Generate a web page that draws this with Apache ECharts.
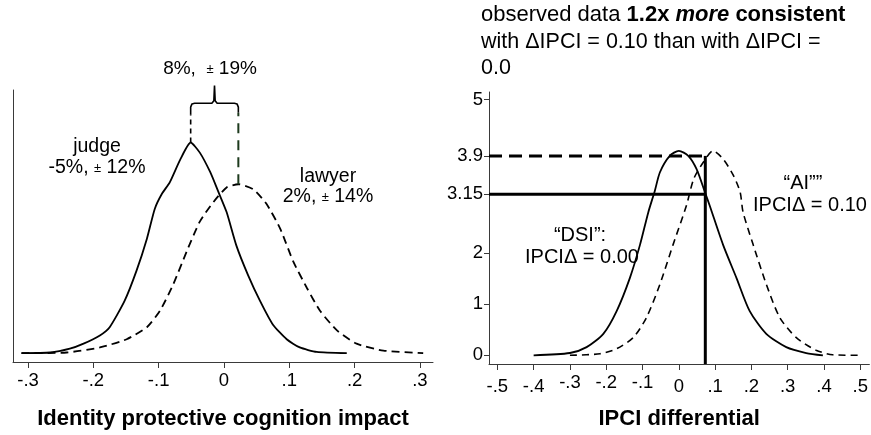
<!DOCTYPE html>
<html><head><meta charset="utf-8">
<script src="https://cdn.jsdelivr.net/npm/echarts@6/dist/echarts.min.js"></script>
<style>html,body{margin:0;padding:0;background:#fff}#c{width:871px;height:435px}</style>
</head><body><div id="c"></div>
<script>
// ---------- data ----------
// Left panel: identity protective cognition impact densities
const judgeX = [-0.31,-0.266,-0.236,-0.215,-0.19,-0.175,-0.152,-0.134,-0.118,-0.106,-0.095,-0.083,-0.067,-0.051,-0.037,-0.021,-0.009,0.004,0.019,0.037,0.055,0.075,0.096,0.116,0.142,0.188];
const judgeY = [0,0.01,0.07,0.15,0.28,0.41,0.83,1.30,1.81,2.28,2.52,2.70,3.06,3.33,3.17,2.86,2.56,2.23,1.70,1.23,0.83,0.45,0.22,0.09,0.02,0];
const lawyerX = [-0.31,-0.241,-0.19,-0.149,-0.118,-0.098,-0.078,-0.057,-0.037,-0.016,0.004,0.022,0.045,0.065,0.086,0.106,0.127,0.147,0.173,0.203,0.244,0.305];
const lawyerY = [0,0.01,0.09,0.22,0.41,0.67,1.08,1.61,2.08,2.39,2.62,2.67,2.59,2.36,1.97,1.45,1.03,0.67,0.36,0.15,0.04,0];
const leftTicks = [-0.3,-0.2,-0.1,0,0.1,0.2,0.3];
const leftTickLabels = ['-.3','-.2','-.1','0','.1','.2','.3'];
const judgeMean = -0.051, lawyerMean = 0.022;
const judgePeak = 3.33, lawyerPeak = 2.67;
const braceTop = 3.95, braceTip = 4.23, judgeStemEnd = 3.77, lawyerStemEnd = 3.80;

// Right panel: IPCI differential densities
const dsiX = [-0.4,-0.3,-0.254,-0.208,-0.171,-0.135,-0.107,-0.084,-0.066,-0.052,-0.025,0,0.026,0.049,0.072,0.085,0.122,0.159,0.195,0.241,0.296,0.351,0.397];
const dsiY = [0,0.045,0.16,0.42,0.87,1.51,2.16,2.80,3.22,3.58,3.90,4.0,3.90,3.64,3.19,2.93,2.16,1.51,0.87,0.42,0.16,0.045,0];
const aiX = [-0.3,-0.217,-0.171,-0.125,-0.089,-0.052,-0.016,0.021,0.041,0.067,0.094,0.122,0.151,0.169,0.177,0.205,0.241,0.278,0.323,0.378,0.424,0.5];
const aiY = [0,0.03,0.13,0.35,0.74,1.39,2.16,2.93,3.45,3.77,4.0,3.84,3.51,3.19,2.80,2.16,1.39,0.74,0.35,0.10,0.01,0];
const rightXTicks = [-0.5,-0.4,-0.3,-0.2,-0.1,0,0.1,0.2,0.3,0.4,0.5];
const rightXTickLabels = ['-.5','-.4','-.3','-.2','-.1','0','.1','.2','.3','.4','.5'];
const rightYTicks = [0,1,2,3.15,3.9,5];
const rightYTickLabels = ['0','1','2','3.15','3.9','5'];
const observedX = 0.073, aiHeight = 3.9, dsiHeight = 3.15;

// ---------- chart ----------
const FONT = '"Liberation Sans", Arial, Helvetica, sans-serif';
const LX = [-0.323, 0.32], LY = [-0.14, 4.16];
const RX = [-0.523, 0.525], RY = [-0.17, 5.15];
const zip = (xs, ys) => xs.map((x, i) => [x, ys[i]]);
const findIdx = (arr, v) => arr.findIndex(a => Math.abs(a - v) < 1e-9);
const AXC = '#3a3a3a';

const line = (data, xi, opts) => Object.assign({
  type: 'line', xAxisIndex: xi, yAxisIndex: xi, data: data, symbol: 'none',
  smooth: false, clip: false, silent: true, animation: false,
  lineStyle: { color: '#000', width: 1.8, type: 'solid' }
}, opts || {});

const chart = echarts.init(document.getElementById('c'), null, { renderer: 'canvas' });
chart.setOption({
  animation: false,
  backgroundColor: '#fff',
  grid: [
    { left: 13, top: 90, width: 420, height: 275 },
    { left: 489, top: 92, width: 381, height: 275 }
  ],
  xAxis: [
    { gridIndex: 0, type: 'value', min: LX[0], max: LX[1],
      axisLine: { show: true, onZero: false, lineStyle: { color: AXC, width: 1 } },
      axisTick: { show: true, customValues: leftTicks, length: 6, lineStyle: { color: AXC } },
      axisLabel: { show: true, customValues: leftTicks, margin: 9, fontFamily: FONT, fontSize: 18.5, color: '#000',
        formatter: v => leftTickLabels[findIdx(leftTicks, v)] },
      splitLine: { show: false },
      name: 'Identity protective cognition impact', nameLocation: 'middle', nameGap: 46,
      nameTextStyle: { fontFamily: FONT, fontSize: 22, fontWeight: 'bold', color: '#000' } },
    { gridIndex: 1, type: 'value', min: RX[0], max: RX[1],
      axisLine: { show: true, onZero: false, lineStyle: { color: AXC, width: 1 } },
      axisTick: { show: true, customValues: rightXTicks, length: 6, lineStyle: { color: AXC } },
      axisLabel: { show: true, customValues: rightXTicks, margin: 9, color: '#000',
        formatter: v => {
          const i = findIdx(rightXTicks, v);
          const raised = v < -0.05 && v > -0.35;
          return (raised ? '{hi|' : '{lo|') + rightXTickLabels[i] + '}';
        },
        rich: {
          hi: { fontFamily: FONT, fontSize: 18.5, color: '#000', padding: [0, 0, 0, 0] },
          lo: { fontFamily: FONT, fontSize: 18.5, color: '#000', padding: [4, 0, 0, 0] }
        } },
      splitLine: { show: false },
      name: 'IPCI differential', nameLocation: 'middle', nameGap: 44,
      nameTextStyle: { fontFamily: FONT, fontSize: 22, fontWeight: 'bold', color: '#000' } }
  ],
  yAxis: [
    { gridIndex: 0, type: 'value', min: LY[0], max: LY[1],
      axisLine: { show: true, onZero: false, lineStyle: { color: AXC, width: 1 } },
      axisTick: { show: false }, axisLabel: { show: false }, splitLine: { show: false } },
    { gridIndex: 1, type: 'value', min: RY[0], max: RY[1],
      axisLine: { show: true, onZero: false, lineStyle: { color: AXC, width: 1 } },
      axisTick: { show: true, customValues: rightYTicks, length: 5, lineStyle: { color: AXC } },
      axisLabel: { show: true, customValues: rightYTicks, margin: 6, fontFamily: FONT, fontSize: 18.5, color: '#000',
        formatter: v => rightYTickLabels[findIdx(rightYTicks, v)] },
      splitLine: { show: false } }
  ],
  series: [
    // left panel
    line(zip(judgeX, judgeY), 0, { smooth: 0.2 }),
    line(zip(lawyerX, lawyerY), 0, { smooth: 0.2, lineStyle: { color: '#000', width: 1.8, type: [8, 5] } }),
    // brace
    line([[judgeMean, judgeStemEnd], [judgeMean, braceTop - 0.06], [judgeMean + 0.002, braceTop - 0.01],
          [judgeMean + 0.006, braceTop], [ (judgeMean + lawyerMean) / 2 - 0.004, braceTop],
          [ (judgeMean + lawyerMean) / 2 - 0.001, braceTop + 0.04], [ (judgeMean + lawyerMean) / 2, braceTip],
          [ (judgeMean + lawyerMean) / 2 + 0.001, braceTop + 0.04], [ (judgeMean + lawyerMean) / 2 + 0.004, braceTop],
          [lawyerMean - 0.006, braceTop], [lawyerMean - 0.002, braceTop - 0.01], [lawyerMean, braceTop - 0.06],
          [lawyerMean, lawyerStemEnd]], 0, { lineStyle: { color: '#000', width: 1.6 } }),
    line([[judgeMean, judgePeak], [judgeMean, judgeStemEnd]], 0, { lineStyle: { color: '#000', width: 1.6, type: [5, 4] } }),
    line([[lawyerMean, lawyerPeak], [lawyerMean, lawyerStemEnd]], 0, { lineStyle: { color: '#1d3a1d', width: 2, type: [10, 7] } }),
    // right panel
    line(zip(dsiX, dsiY), 1, { smooth: 0.25 }),
    line(zip(aiX, aiY), 1, { smooth: 0.25, lineStyle: { color: '#000', width: 1.6, type: [7, 5] } }),
    line([[RX[0], aiHeight], [observedX, aiHeight]], 1, { lineStyle: { color: '#000', width: 3, type: [13, 7] } }),
    line([[RX[0], dsiHeight], [observedX, dsiHeight]], 1, { lineStyle: { color: '#000', width: 3 } }),
    line([[observedX, aiHeight], [observedX, RY[0]]], 1, { lineStyle: { color: '#000', width: 3 } })
  ],
  graphic: [
    // left annotations
    { type: 'text', x: 210, y: 69, style: { text: '{n|8%,  }{s|±}{n| 19%}', align: 'center', verticalAlign: 'middle',
        rich: { n: { fontFamily: FONT, fontSize: 19, fill: '#000' }, s: { fontFamily: FONT, fontSize: 13, fill: '#000' } } } },
    { type: 'text', x: 97, y: 147, style: { text: 'judge', align: 'center', verticalAlign: 'middle', font: '19.5px ' + FONT, fill: '#000' } },
    { type: 'text', x: 97, y: 168, style: { text: '{n|-5%, }{s|±}{n| 12%}', align: 'center', verticalAlign: 'middle',
        rich: { n: { fontFamily: FONT, fontSize: 19.5, fill: '#000' }, s: { fontFamily: FONT, fontSize: 13, fill: '#000' } } } },
    { type: 'text', x: 328, y: 177, style: { text: 'lawyer', align: 'center', verticalAlign: 'middle', font: '19.5px ' + FONT, fill: '#000' } },
    { type: 'text', x: 328, y: 197, style: { text: '{n|2%, }{s|±}{n| 14%}', align: 'center', verticalAlign: 'middle',
        rich: { n: { fontFamily: FONT, fontSize: 19.5, fill: '#000' }, s: { fontFamily: FONT, fontSize: 13, fill: '#000' } } } },
    // right annotations
    { type: 'text', x: 803, y: 183, style: { text: '“AI””', align: 'center', verticalAlign: 'middle', font: '20px ' + FONT, fill: '#000' } },
    { type: 'text', x: 810, y: 205, style: { text: 'IPCIΔ = 0.10', align: 'center', verticalAlign: 'middle', font: '20px ' + FONT, fill: '#000' } },
    { type: 'text', x: 580, y: 235, style: { text: '“DSI”:', align: 'center', verticalAlign: 'middle', font: '20px ' + FONT, fill: '#000' } },
    { type: 'text', x: 582, y: 257, style: { text: 'IPCIΔ = 0.00', align: 'center', verticalAlign: 'middle', font: '20px ' + FONT, fill: '#000' } },
    // top-right statement
    { type: 'text', x: 481, y: 15, style: { text: '{r|observed data }{b|1.2x }{bi|more}{b| consistent}', align: 'left', verticalAlign: 'middle',
        rich: { r: { fontFamily: FONT, fontSize: 22, fill: '#000' },
                b: { fontFamily: FONT, fontSize: 22, fontWeight: 'bold', fill: '#000' },
                bi: { fontFamily: FONT, fontSize: 22, fontWeight: 'bold', fontStyle: 'italic', fill: '#000' } } } },
    { type: 'text', x: 481, y: 42, style: { text: 'with ΔIPCI = 0.10 than with ΔIPCI =', align: 'left', verticalAlign: 'middle', font: '21.5px ' + FONT, fill: '#000' } },
    { type: 'text', x: 481, y: 68, style: { text: '0.0', align: 'left', verticalAlign: 'middle', font: '21.5px ' + FONT, fill: '#000' } }
  ]
});
</script></body></html>
